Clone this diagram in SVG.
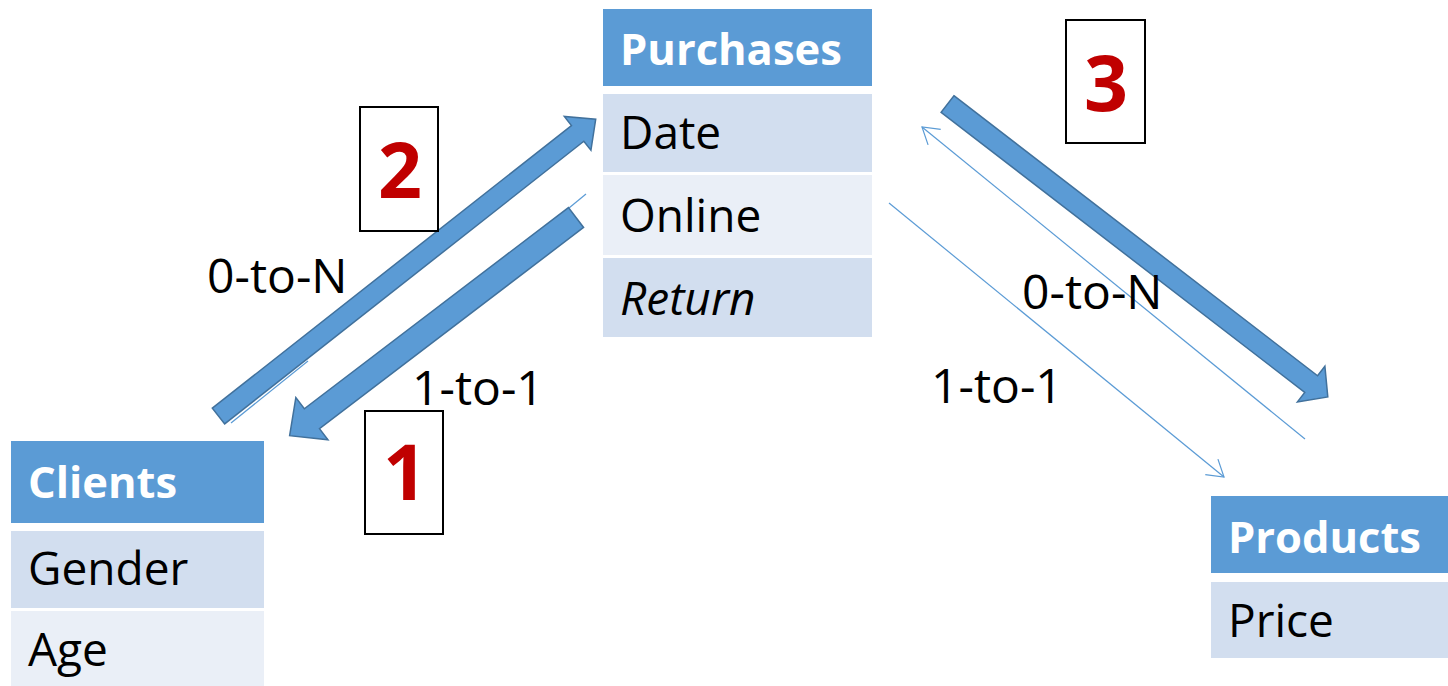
<svg xmlns="http://www.w3.org/2000/svg" width="1448" height="686" viewBox="0 0 1448 686">
  <style>
    .hdr { fill: #5B9BD5; }
    .rowA { fill: #D2DEEF; }
    .rowB { fill: #EAEFF7; }
    .htxt { font-family: "Open Sans", "Liberation Sans", sans-serif; font-weight: bold; font-size: 43.5px; fill: #FFFFFF; }
    .ftxt { font-family: "Open Sans", "Liberation Sans", sans-serif; font-size: 46px; fill: #000000; }
    .lbl { font-family: "Open Sans", "Liberation Sans", sans-serif; font-size: 48px; fill: #000000; }
    .num { font-family: "Open Sans", "Liberation Sans", sans-serif; font-weight: bold; font-size: 77px; fill: #C00000; text-anchor: middle; }
    .numbox { fill: #FFFFFF; stroke: #000000; stroke-width: 2; }
    .block { fill: #5B9BD5; stroke: #41719C; stroke-width: 1.5; stroke-linejoin: miter; }
    .thin { fill: none; stroke: #5B9BD5; stroke-width: 1.2; }
  </style>
  <defs>
    <marker id="open" markerUnits="userSpaceOnUse" markerWidth="40" markerHeight="40" viewBox="-20 -20 40 40" refX="0" refY="0" orient="auto" overflow="visible">
      <path d="M-16,-10 L0,0 L-16,10" fill="none" stroke="#5B9BD5" stroke-width="1.2"/>
    </marker>
  </defs>

  <rect width="1448" height="686" fill="#FFFFFF"/>

  <!-- relationship connectors -->
  <g id="connectors">
    <!-- thin 1-to-1 lines -->
    <line class="thin" x1="586" y1="194" x2="569" y2="208"/>
    <line class="thin" x1="231" y1="423" x2="308" y2="361"/>
    <line class="thin" x1="1305" y1="439" x2="922" y2="127" marker-end="url(#open)"/>
    <line class="thin" x1="889" y1="203" x2="1224" y2="477" marker-end="url(#open)"/>
    <!-- block arrows: local frame, tail centre at origin, pointing +x -->
    <path class="block" transform="translate(218.5,416) rotate(-38.2)"
          d="M0,-10 L457,-10 L457,-21.5 L480,0 L457,21.5 L457,10 L0,10 Z"/>
    <path class="block" transform="translate(576,217.5) rotate(142.7)"
          d="M0,-12.5 L332,-12.5 L332,-26.5 L360,0 L332,26.5 L332,12.5 L0,12.5 Z"/>
    <path class="block" transform="translate(947.5,104) rotate(37.6)"
          d="M0,-10.5 L459,-10.5 L459,-22.5 L480,0 L459,22.5 L459,10.5 L0,10.5 Z"/>
    <!-- cardinality labels -->
    <text class="lbl" x="207" y="293">0-to-N</text>
    <text class="lbl" x="412" y="405">1-to-1</text>
    <text class="lbl" x="1022" y="309">0-to-N</text>
    <text class="lbl" x="931" y="403">1-to-1</text>
  </g>

  <!-- step markers -->
  <g id="step1">
    <rect class="numbox" x="365" y="411" width="78" height="123"/>
    <text class="num" x="405" y="500">1</text>
  </g>
  <g id="step2">
    <rect class="numbox" x="360" y="107" width="78" height="124"/>
    <text class="num" x="400" y="198">2</text>
  </g>
  <g id="step3">
    <rect class="numbox" x="1066" y="20" width="79" height="123"/>
    <text class="num" x="1106" y="111">3</text>
  </g>

  <!-- tables -->
  <g id="purchases">
    <rect class="hdr" x="603" y="9" width="269" height="77"/>
    <rect class="rowA" x="603" y="94" width="269" height="78"/>
    <rect class="rowB" x="603" y="175" width="269" height="80"/>
    <rect class="rowA" x="603" y="258" width="269" height="79"/>
    <text class="htxt" x="620" y="65">Purchases</text>
    <text class="ftxt" x="620" y="149">Date</text>
    <text class="ftxt" x="620" y="232">Online</text>
    <text class="ftxt" x="620" y="315" font-style="italic">Return</text>
  </g>

  <g id="clients">
    <rect class="hdr" x="11" y="441" width="253" height="82"/>
    <rect class="rowA" x="11" y="531" width="253" height="77"/>
    <rect class="rowB" x="11" y="611" width="253" height="75"/>
    <text class="htxt" x="28" y="498">Clients</text>
    <text class="ftxt" x="28" y="585">Gender</text>
    <text class="ftxt" x="28" y="666">Age</text>
  </g>

  <g id="products">
    <rect class="hdr" x="1211" y="496" width="237" height="77"/>
    <rect class="rowA" x="1211" y="582" width="237" height="76"/>
    <text class="htxt" x="1228" y="553">Products</text>
    <text class="ftxt" x="1228" y="637">Price</text>
  </g>
</svg>
